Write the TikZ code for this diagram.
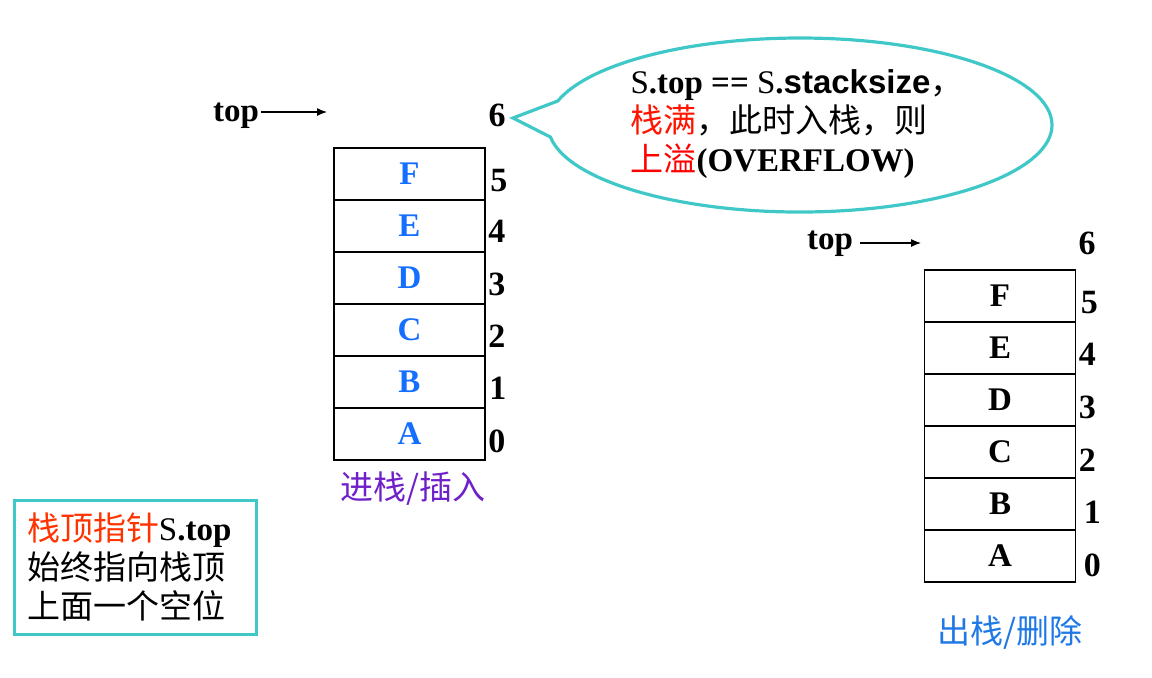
\documentclass[tikz,border=0pt]{standalone}
\usepackage{fontspec}
\setmainfont{Liberation Serif}
\newfontfamily\cjk{Noto Sans CJK SC}
\newfontfamily\arialfont{Liberation Sans}
\usetikzlibrary{shapes.callouts,arrows.meta}
\definecolor{BubbleCyan}{RGB}{64,200,200}
\definecolor{CellBlue}{RGB}{20,110,255}
\definecolor{PushPurple}{RGB}{112,32,200}
\definecolor{PopBlue}{RGB}{30,120,230}
\definecolor{NoteRed}{RGB}{255,51,0}
\definecolor{FullRed}{RGB}{255,20,0}

\begin{document}
\begin{tikzpicture}[x=0.5pt,y=-0.5pt,>={Latex[length=5pt,width=4pt]}]
			\useasboundingbox (0,0) rectangle (1152,677);
			\tikzstyle{every node}=[font=\fontsize{16.5}{19.5}\selectfont]
			\tikzstyle{cell}=[draw,rectangle,minimum width=75.5pt,minimum height=26pt,inner sep=0pt,line width=0.9pt,font=\fontsize{16.5}{19.5}\selectfont\bfseries]
			\tikzstyle{idx}=[anchor=west,inner sep=0pt,font=\fontsize{17}{19}\selectfont\bfseries]
			\tikzstyle{ptr}=[font=\fontsize{16.5}{19.5}\selectfont\bfseries]
			\tikzstyle{caption}=[font=\fontsize{16.5}{19.5}\selectfont\cjk]
			
			%% Stack before: push
			\draw (409.5,174) node [cell,text=CellBlue] (lF) {F};
			\draw (409.5,226) node [cell,text=CellBlue] (lE) {E};
			\draw (409.5,278) node [cell,text=CellBlue] (lD) {D};
			\draw (409.5,330) node [cell,text=CellBlue] (lC) {C};
			\draw (409.5,382) node [cell,text=CellBlue] (lB) {B};
			\draw (409.5,434) node [cell,text=CellBlue] (lA) {A};
			
			\path (lF.east) ++(4,7) node [idx] (l5) {5};
			\path (lE.east) ++(2,5) node [idx] (l4) {4};
			\path (lD.east) ++(2,6) node [idx] (l3) {3};
			\path (lC.east) ++(2,6) node [idx] (l2) {2};
			\path (lB.east) ++(3,6) node [idx] (l1) {1};
			\path (lA.east) ++(2,7) node [idx] (l0) {0};
			\draw (497,115) node [idx,anchor=center] (l6) {6};
			
			\draw (236,116) node [ptr,inner xsep=1pt] (ltop) {top};
			\coordinate (lhead) at (327,112);
			\path [->,line width=0.6pt] (ltop.east |- lhead) edge (lhead);
			
			\draw (413,489) node [caption,text=PushPurple] (push) {进栈/插入};
			
			%% Overflow note
			\coordinate (tip) at (513,118);
			\draw (800,125) node [ellipse callout,draw=BubbleCyan,line width=1.6pt,minimum width=252pt,minimum height=87pt,callout absolute pointer=(tip),callout pointer arc=24] (bubble) {};
			\draw (797,124) node [align=left] (full) {S\textbf{.top ==} S\textbf{.}{\arialfont\bfseries stacksize}{\cjk ，}\\
				{\cjk\color{FullRed}栈满}{\cjk ，此时入栈，则}\\
				{\cjk\color{red}上溢}\textbf{(OVERFLOW)}};
			
			%% Stack after: pop
			\draw (1000,296) node [cell] (rF) {F};
			\draw (1000,348) node [cell] (rE) {E};
			\draw (1000,400) node [cell] (rD) {D};
			\draw (1000,452) node [cell] (rC) {C};
			\draw (1000,504) node [cell] (rB) {B};
			\draw (1000,556) node [cell] (rA) {A};
			
			\path (rF.east) ++(4,7) node [idx] (r5) {5};
			\path (rE.east) ++(2,6) node [idx] (r4) {4};
			\path (rD.east) ++(2,7) node [idx] (r3) {3};
			\path (rC.east) ++(2,8) node [idx] (r2) {2};
			\path (rB.east) ++(7,8) node [idx] (r1) {1};
			\path (rA.east) ++(7,9) node [idx] (r0) {0};
			\draw (1087,243) node [idx,anchor=center] (r6) {6};
			
			\draw (830,244) node [ptr] (rtop) {top};
			\coordinate (rhead) at (921,243);
			\path [->,line width=0.6pt] (rtop.east |- rhead) edge (rhead);
			
			\draw (1010,632) node [caption,text=PopBlue] (pop) {出栈/删除};
			
			%% Stack pointer note
			\draw (135,567) node [draw=BubbleCyan,line width=1.5pt,text width=108pt,inner xsep=6.5pt,minimum height=67pt,align=left] (note) {{\cjk\color{NoteRed}栈顶指针}S\textbf{.top}\\
				{\cjk 始终指向栈顶}\\
				{\cjk 上面一个空位}};
			
\end{tikzpicture}
\end{document}
